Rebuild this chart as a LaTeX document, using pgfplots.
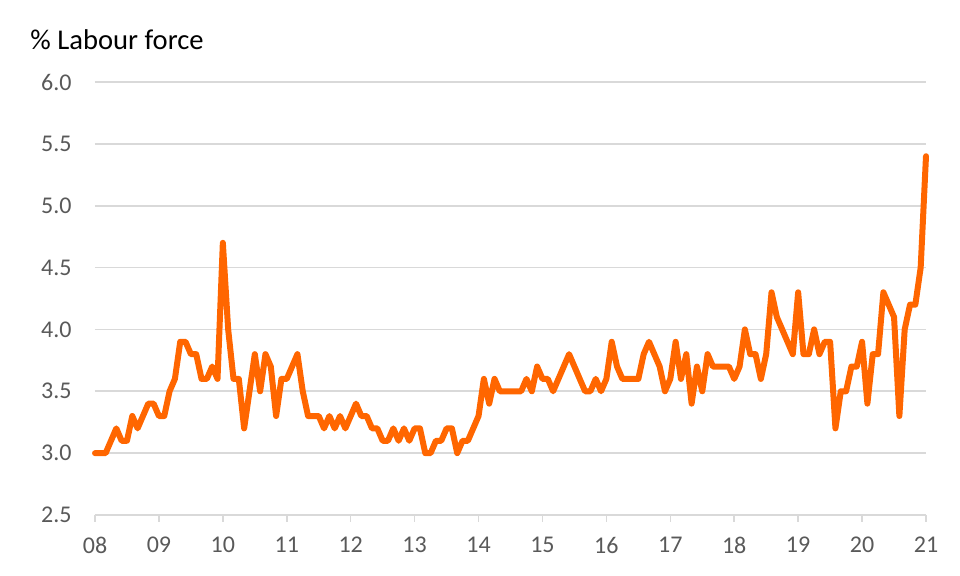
\documentclass[border=0pt]{standalone}
\usepackage{pgfplots}
\usepackage{pgfplotstable}
\pgfplotsset{compat=1.18}
\usepackage{fontspec}
\setmainfont{Carlito}
\definecolor{lineorange}{HTML}{FF6600}
\definecolor{gridgray}{HTML}{D9D9D9}
\definecolor{ticktext}{HTML}{595959}
\pgfplotstableread{
m v
0 3.0
1 3.0
2 3.0
3 3.1
4 3.2
5 3.1
6 3.1
7 3.3
8 3.2
9 3.3
10 3.4
11 3.4
12 3.3
13 3.3
14 3.5
15 3.6
16 3.9
17 3.9
18 3.8
19 3.8
20 3.6
21 3.6
22 3.7
23 3.6
24 4.7
25 4.0
26 3.6
27 3.6
28 3.2
29 3.5
30 3.8
31 3.5
32 3.8
33 3.7
34 3.3
35 3.6
36 3.6
37 3.7
38 3.8
39 3.5
40 3.3
41 3.3
42 3.3
43 3.2
44 3.3
45 3.2
46 3.3
47 3.2
48 3.3
49 3.4
50 3.3
51 3.3
52 3.2
53 3.2
54 3.1
55 3.1
56 3.2
57 3.1
58 3.2
59 3.1
60 3.2
61 3.2
62 3.0
63 3.0
64 3.1
65 3.1
66 3.2
67 3.2
68 3.0
69 3.1
70 3.1
71 3.2
72 3.3
73 3.6
74 3.4
75 3.6
76 3.5
77 3.5
78 3.5
79 3.5
80 3.5
81 3.6
82 3.5
83 3.7
84 3.6
85 3.6
86 3.5
87 3.6
88 3.7
89 3.8
90 3.7
91 3.6
92 3.5
93 3.5
94 3.6
95 3.5
96 3.6
97 3.9
98 3.7
99 3.6
100 3.6
101 3.6
102 3.6
103 3.8
104 3.9
105 3.8
106 3.7
107 3.5
108 3.6
109 3.9
110 3.6
111 3.8
112 3.4
113 3.7
114 3.5
115 3.8
116 3.7
117 3.7
118 3.7
119 3.7
120 3.6
121 3.7
122 4.0
123 3.8
124 3.8
125 3.6
126 3.8
127 4.3
128 4.1
129 4.0
130 3.9
131 3.8
132 4.3
133 3.8
134 3.8
135 4.0
136 3.8
137 3.9
138 3.9
139 3.2
140 3.5
141 3.5
142 3.7
143 3.7
144 3.9
145 3.4
146 3.8
147 3.8
148 4.3
149 4.2
150 4.1
151 3.3
152 4.0
153 4.2
154 4.2
155 4.5
156 5.4
}\datatable
\begin{document}
\begin{tikzpicture}
\useasboundingbox (-47.5pt,-30.5pt) rectangle (432.5pt,257.5pt);
\begin{axis}[
  at={(0,0)}, anchor=south west,
  scale only axis, width=415.5pt, height=216.5pt,
  xmin=0, xmax=156, ymin=2.5, ymax=6,
  xtick={0,12,...,156},
  xticklabels={08,09,10,11,12,13,14,15,16,17,18,19,20,21},
  ytick={2.5,3,3.5,4,4.5,5,5.5,6},
  /pgf/number format/.cd, fixed, fixed zerofill, precision=1, assume math mode=true,
  /pgfplots/.cd,
  axis line style={draw=none},
  ymajorgrids,
  grid style={gridgray, line width=0.8pt},
  tick align=outside,
  xtick pos=left,
  major tick length=3.5pt,
  xtick style={draw=gridgray, line width=0.8pt},
  ytick style={draw=none},
  ticklabel style={font=\fontsize{12}{14}\selectfont, text=ticktext},
  yticklabel style={anchor=east, inner sep=0pt, xshift=-8pt},
  xticklabel style={anchor=north, inner sep=0pt, yshift=-7.5pt},
  clip=false,
]
\addplot[lineorange, line width=3pt, line join=round, line cap=round] table[x=m, y=v] {\datatable};
\end{axis}
\node[anchor=base west, inner sep=0pt, font=\fontsize{14.3}{17}\selectfont] at (-32.5pt,232.5pt) {\% Labour force};
\end{tikzpicture}
\end{document}
